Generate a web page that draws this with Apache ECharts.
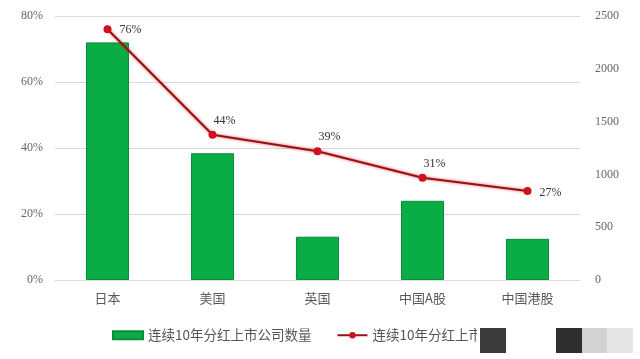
<!DOCTYPE html>
<html>
<head>
<meta charset="utf-8">
<script src="https://cdn.jsdelivr.net/npm/echarts@6/dist/echarts.min.js"></script>
<style>html,body{margin:0;padding:0;background:#fff;}#c{width:640px;height:359px;}</style>
</head>
<body>
<div id="c"></div>
<script>
const categories = ['日本', '美国', '英国', '中国A股', '中国港股'];
const companyCount = [2250, 1200, 410, 750, 390];
const dividendShare = [76, 44, 39, 31, 27];
const leftTicks = { min: 0, max: 80, interval: 20 };
const rightTicks = { min: 0, max: 2500, interval: 500 };
const barName = '连续10年分红上市公司数量';
const lineName = '连续10年分红上市公司占比';

const labelPositions = ['right', 'top', 'top', 'top', 'right'];
const labelOffsets = [[3, 1], [12, 1], [12, 1], [12, 1], [3, 2]];

const chart = echarts.init(document.getElementById('c'), null, { renderer: 'canvas' });
chart.setOption({
  backgroundColor: '#ffffff',
  animation: false,
  grid: { left: 55, right: 60, top: 16, bottom: 79 },
  legend: {
    bottom: 12,
    left: 107,
    itemWidth: 30,
    itemHeight: 8,
    itemGap: 25,
    textStyle: { fontFamily: 'Noto Sans CJK SC', fontSize: 13.5, color: '#555' },
    data: [
      { name: barName, icon: 'rect' },
      { name: lineName }
    ]
  },
  xAxis: {
    type: 'category',
    data: categories,
    axisLine: { show: true, lineStyle: { color: '#d9d9d9' } },
    axisTick: { show: false },
    axisLabel: { fontFamily: 'Noto Sans CJK SC', fontSize: 13, color: '#595959', margin: 12 }
  },
  yAxis: [
    {
      type: 'value',
      min: leftTicks.min, max: leftTicks.max, interval: leftTicks.interval,
      axisLabel: { formatter: '{value}%', fontFamily: 'Liberation Serif', fontSize: 12, color: '#666', margin: 12 },
      splitLine: { lineStyle: { color: '#d9d9d9' } },
      axisLine: { show: false }, axisTick: { show: false }
    },
    {
      type: 'value',
      min: rightTicks.min, max: rightTicks.max, interval: rightTicks.interval,
      axisLabel: { formatter: (v) => String(v), fontFamily: 'Liberation Serif', fontSize: 12, color: '#666', margin: 15 },
      splitLine: { show: false },
      axisLine: { show: false }, axisTick: { show: false }
    }
  ],
  series: [
    {
      name: barName,
      type: 'bar',
      yAxisIndex: 1,
      data: companyCount,
      barWidth: '41%',
      itemStyle: { color: '#0aac46', borderColor: '#0b8a3a', borderWidth: 1 }
    },
    {
      name: lineName,
      type: 'line',
      yAxisIndex: 0,
      data: dividendShare.map((v, i) => ({
        value: v,
        label: { position: labelPositions[i], offset: labelOffsets[i] }
      })),
      symbol: 'circle',
      symbolSize: 8,
      lineStyle: { color: '#931313', width: 2, shadowColor: 'rgba(230,30,30,0.8)', shadowBlur: 3 },
      itemStyle: { color: '#d0101c' },
      label: {
        show: true,
        formatter: '{c}%',
        fontFamily: 'Liberation Serif',
        fontSize: 12,
        color: '#333'
      }
    }
  ],
  graphic: [
    { type: 'rect', shape: { x: 477, y: 322, width: 163, height: 37 }, style: { fill: '#ffffff' }, z: 100 },
    { type: 'rect', shape: { x: 480, y: 328, width: 26, height: 25 }, style: { fill: '#3a3a3a' }, z: 101 },
    { type: 'rect', shape: { x: 556, y: 328, width: 26, height: 25 }, style: { fill: '#2e2e2e' }, z: 101 },
    { type: 'rect', shape: { x: 582, y: 328, width: 25, height: 25 }, style: { fill: '#d2d2d2' }, z: 101 },
    { type: 'rect', shape: { x: 607, y: 328, width: 26, height: 25 }, style: { fill: '#e6e6e6' }, z: 101 }
  ]
});
</script>
</body>
</html>
